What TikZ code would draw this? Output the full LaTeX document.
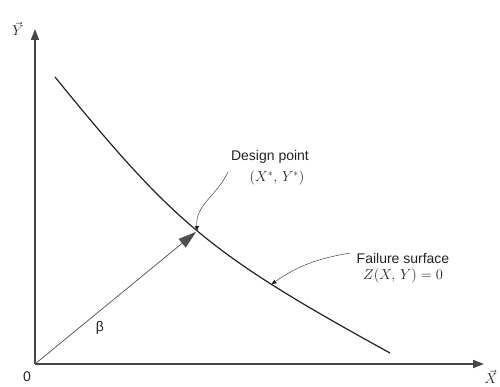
\documentclass[tikz,border=0pt]{standalone}
\usepackage{fontspec}
\setmainfont{Liberation Sans}
\usetikzlibrary{arrows.meta,positioning}
\definecolor{axisgray}{RGB}{70,70,70}
\definecolor{ink}{RGB}{35,35,35}

\tikzset{
  axis/.style={line width=1.6pt,draw=axisgray,-{Triangle[length=11pt,width=8pt]}},
  lbl/.style={font=\fontsize{14}{16}\selectfont,text=ink,inner sep=1pt},
  pointer/.style={thin,ink,-{Triangle[length=5pt,width=4pt]}}
}

\begin{document}
\begin{tikzpicture}[x=1pt,y=1pt]
  \useasboundingbox (0,0) rectangle (500,387);
  % axes
  \coordinate (O) at (35,23);
  \coordinate (ytop) at (35,358);
  \coordinate (xend) at (484,23);
  \draw[axis] (O) -- (ytop);
  \draw[axis] (O) -- (xend);
  \node[lbl] (ylab) at (18,358) {$\vec{Y}$};
  \node[lbl] (xlab) at (491,10) {$\vec{X}$};
  \node[lbl] (orig) at (27,10) {0};
  % failure surface
  \draw[ink,line width=1.2pt] (55,310) .. controls (175,162.4) and (210,133) .. (390,34)
    coordinate[pos=0.49] (D) coordinate[pos=0.73] (F);
  % reliability index
  \draw[ink!80,line width=0.7pt,shorten >=1.5pt,-{Triangle[length=18pt,width=11pt]}] (O) -- (D);
  \node[lbl] (beta) at (100,59) {β};
  % labels
  \node[lbl] (dp) at (270,230) {Design point};
  \node[lbl] (dpxy) at (277,209) {$(X^*,\,Y^*)$};
  \coordinate (dpfrom) at (228,215);
  \draw[pointer] (dpfrom) to[out=245,in=95] (D);
  \node[lbl,align=center] (fs) at (403,119) {Failure surface\\$Z(X,\,Y)=0$};
  \coordinate (fsfrom) at (350,134);
  \draw[pointer] (fsfrom) to[out=190,in=35] (F);
\end{tikzpicture}
\end{document}
